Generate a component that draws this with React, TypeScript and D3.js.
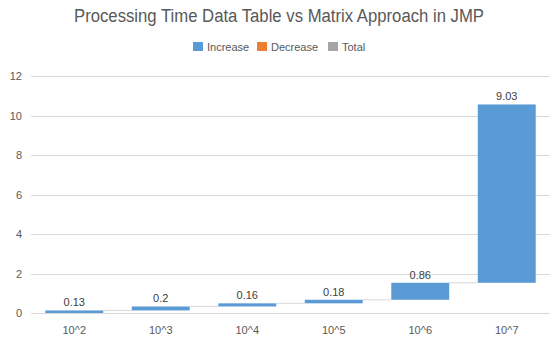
import React from "react";
import * as d3 from "d3";

const categories = ["10^2", "10^3", "10^4", "10^5", "10^6", "10^7"];
const values = [0.13, 0.2, 0.16, 0.18, 0.86, 9.03];
const yTicks = [0, 2, 4, 6, 8, 10, 12];
const legendItems = ["Increase", "Decrease", "Total"];
const legendColors = ["#5b9bd5", "#ed7d31", "#a5a5a5"];

const W = 557;
const H = 350;
const FONT = "'Liberation Sans', Arial, sans-serif";

export default function App() {
  const x = d3.scaleBand<string>().domain(categories).range([31, 550]).paddingInner(0.33).paddingOuter(0.165);
  const y = d3.scaleLinear().domain([0, 12]).range([313, 76]);

  let cum = 0;
  const bars = values.map((v, i) => {
    const start = cum;
    cum += v;
    return { cat: categories[i], v, start, end: cum };
  });

  const legendX = [193, 257, 328];

  return (
    <svg width={W} height={H} style={{ position: "absolute", left: 0, top: 0, background: "#fff" }} fontFamily={FONT}>
      <rect x={0} y={0} width={W} height={H} fill="#fff" />
      <text x={279} y={22} textAnchor="middle" fontSize={18} fill="#595959" textLength={410} lengthAdjust="spacingAndGlyphs">
        Processing Time Data Table vs Matrix Approach in JMP
      </text>
      {legendItems.map((t, i) => (
        <g key={t}>
          <rect x={legendX[i]} y={42} width={10} height={9} fill={legendColors[i]} />
          <text x={legendX[i] + 14} y={50.5} fontSize={11} fill="#595959">{t}</text>
        </g>
      ))}
      {yTicks.map((t) => (
        <g key={t}>
          <line x1={31} x2={550} y1={Math.round(y(t)) + 0.5} y2={Math.round(y(t)) + 0.5} stroke="#d9d9d9" strokeWidth={1} />
          <text x={22} y={y(t) + 4} textAnchor="end" fontSize={11} fill="#595959">{t}</text>
        </g>
      ))}
      {bars.slice(0, -1).map((b, i) => (
        <line key={"c" + i}
          x1={(x(b.cat) as number) + x.bandwidth()}
          x2={x(bars[i + 1].cat) as number}
          y1={y(b.end)} y2={y(b.end)}
          stroke="#d9d9d9" strokeWidth={1} />
      ))}
      {bars.map((b) => (
        <g key={b.cat}>
          <rect x={x(b.cat)} width={x.bandwidth()} y={y(b.end)} height={y(b.start) - y(b.end)} fill="#5b9bd5" />
          <text x={(x(b.cat) as number) + x.bandwidth() / 2} y={y(b.end) - 4} textAnchor="middle" fontSize={11} fill="#404040">{String(b.v)}</text>
          <text x={(x(b.cat) as number) + x.bandwidth() / 2} y={334} textAnchor="middle" fontSize={11} fill="#595959">{b.cat}</text>
        </g>
      ))}
    </svg>
  );
}
